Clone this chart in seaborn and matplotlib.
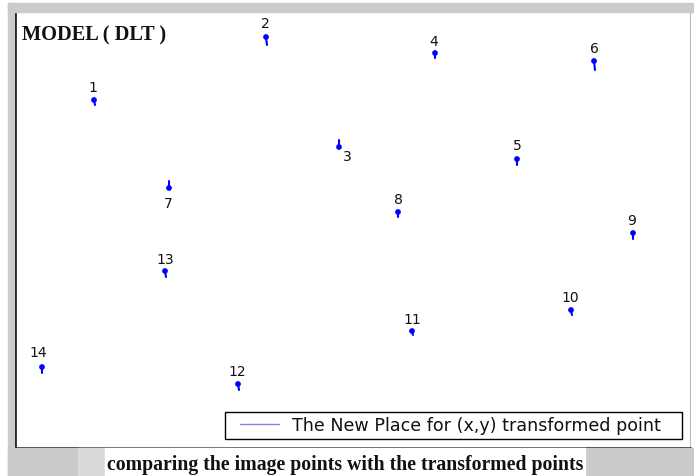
import numpy as np
import pandas as pd
import matplotlib
matplotlib.use("Agg")
import matplotlib.pyplot as plt
from matplotlib.patches import Rectangle
from matplotlib.lines import Line2D
import seaborn as sns

sns.set_theme(style="white")
plt.rcParams['font.family'] = ['DejaVu Sans']

# image points (head of each pin) and transformed points (tail end)
point_ids = ["1", "2", "3", "4", "5", "6", "7", "8", "9", "10", "11", "12", "13", "14"]
img_x = [79, 251, 324, 420, 502, 579, 154, 383, 618, 556, 397, 223, 150, 27]
img_y = [348, 411, 301, 395, 289, 387, 260, 236, 215, 138, 117, 64, 177, 81]
trans_x = [80, 252, 324, 420, 502, 580, 154, 383, 618, 557, 398, 224, 151, 27]
trans_y = [343, 403, 308, 390, 283, 378, 267, 231, 209, 133, 113, 58, 171, 75]
# where the number labels sit relative to the head (in pixels)
label_dx = [-1, -1, 8, -1, 0, 0, -1, 0, -1, -1, 0, -1, 0, -4]
label_dy = [13, 14, -9, 12, 14, 13, -15, 13, 13, 13, 12, 13, 12, 15]

df = pd.DataFrame({"id": point_ids, "x": img_x, "y": img_y,
                   "tx": trans_x, "ty": trans_y})

fig = plt.figure(figsize=(6.94, 4.77), dpi=100)
W, H = 694, 477

# grey frame around the picture
grey = "#cbcbcb"
fig.patches.append(Rectangle((8 / W, 0), (W - 8) / W, (477 - 449) / H,
                             transform=fig.transFigure, color=grey, zorder=0))
fig.patches.append(Rectangle((8 / W, 0), 6 / W, 473 / H,
                             transform=fig.transFigure, color=grey, zorder=0))
fig.patches.append(Rectangle((8 / W, (477 - 13) / H), (W - 8) / W, 9 / H,
                             transform=fig.transFigure, color=grey, zorder=0))
fig.patches.append(Rectangle((78 / W, 0), 27 / W, 28 / H,
                             transform=fig.transFigure, color="#dadada", zorder=0))
fig.patches.append(Rectangle((105 / W, 0), 480 / W, 28 / H,
                             transform=fig.transFigure, color="white", zorder=0))

ax = fig.add_axes([15 / W, 28 / H, 675 / W, 436 / H])
ax.set_xlim(0, 675)
ax.set_ylim(0, 436)
ax.set_xticks([])
ax.set_yticks([])
for side in ["left", "bottom"]:
    ax.spines[side].set_color("black")
    ax.spines[side].set_linewidth(1.8)
ax.spines["top"].set_visible(False)
ax.spines["right"].set_color("#bbbbbb")
ax.spines["right"].set_linewidth(0.8)

# tails from image point to transformed point
for _, r in df.iterrows():
    ax.plot([r.x, r.tx], [r.y, r.ty], color="#0000ff", lw=1.5, zorder=2)
sns.scatterplot(data=df, x="x", y="y", color="#0000ff", s=17, marker="o",
                edgecolor="none", ax=ax, zorder=3, legend=False)

for i, r in df.iterrows():
    ax.annotate(r.id, (r.x, r.y), xytext=(label_dx[i], label_dy[i]),
                textcoords="offset pixels", ha="center", va="center",
                fontsize=10, color="#111111")

ax.text(7, 414, "MODEL ( DLT )", fontsize=14.7, fontweight="bold",
        family="Liberation Serif", color="#111111", va="center", ha="left")

# legend box drawn by hand so the padding matches
ax.add_patch(Rectangle((210, 9), 457, 27, facecolor="white", edgecolor="black",
                       lw=1, zorder=4))
handle = Line2D([], [], color="#8080ff", lw=1)
leg = ax.legend([handle], ["The New Place for (x,y) transformed point"],
                loc="center left", bbox_to_anchor=(225 / 675, 22.5 / 436),
                frameon=False, fontsize=12.6, handlelength=2.2,
                borderpad=0, handletextpad=0.8, borderaxespad=0,
                labelcolor="#111111")
leg.set_zorder(5)

ax.set_xlabel("")
ax.set_ylabel("")
fig.text(345 / W, (477 - 465) / H,
         "comparing the image points with the transformed points",
         fontsize=14.2, fontweight="bold", family="Liberation Serif",
         ha="center", va="center", color="#111111")

fig.savefig("out.png", dpi=100)
